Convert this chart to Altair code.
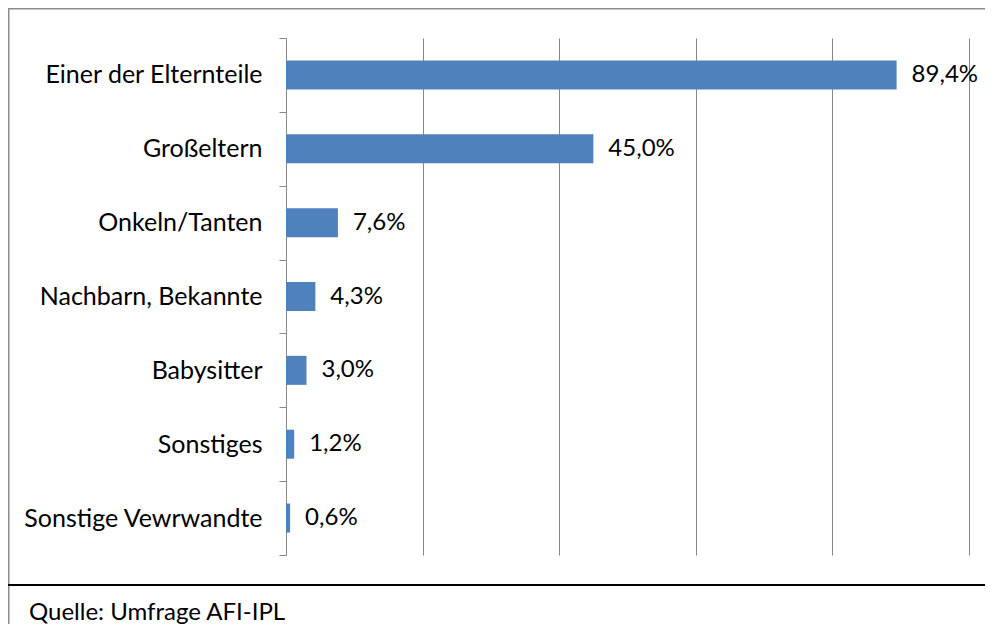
import altair as alt
import pandas as pd

categories = ["Einer der Elternteile", "Großeltern", "Onkeln/Tanten",
              "Nachbarn, Bekannte", "Babysitter", "Sonstiges", "Sonstige Vewrwandte"]
values = [89.4, 45.0, 7.6, 4.3, 3.0, 1.2, 0.6]
x_ticks = [0, 20, 40, 60, 80, 100]
source_note = "Quelle: Umfrage AFI-IPL"

df = pd.DataFrame({"cat": categories, "val": values})
df["label"] = [f"{v:.1f}".replace(".", ",") + "%" for v in values]

FONT = "Lato"
FS = 25
W, H = 683, 517
L, T, R, B = 278, 30, 16, 69
GRAY = "#878787"

y_enc = alt.Y(
    "cat:N", sort=categories, title=None,
    scale=alt.Scale(paddingInner=0, paddingOuter=0),
    axis=alt.Axis(tickBand="extent", labelFont=FONT, labelFontSize=FS,
                  labelColor="black", labelPadding=17, tickSize=7,
                  tickColor=GRAY, domainColor=GRAY, grid=False, labelLimit=400),
)
x_enc = alt.X(
    "val:Q", title=None, scale=alt.Scale(domain=[0, 100]),
    axis=alt.Axis(values=x_ticks, labels=False, ticks=False, domain=False,
                  grid=True, gridColor=GRAY, gridOpacity=1),
)

bars = alt.Chart(df).mark_bar(size=29, color="#4F81BD").encode(x=x_enc, y=y_enc)
texts = alt.Chart(df).mark_text(
    align="left", baseline="middle", dx=15, font=FONT, fontSize=24, color="black"
).encode(x="val:Q", y=alt.Y("cat:N", sort=categories), text="label:N")

one = pd.DataFrame({"k": [0]})
top_line = alt.Chart(one).mark_rule(color="#8c8c8c", strokeWidth=1.5).encode(
    x=alt.value(-L + 0.5), x2=alt.value(W + R), y=alt.value(-T + 0.75))
left_line = alt.Chart(one).mark_rule(color="#8c8c8c", strokeWidth=1.5).encode(
    x=alt.value(-L + 0.75), y=alt.value(-T), y2=alt.value(H + B))
sep_line = alt.Chart(one).mark_rule(color="black", strokeWidth=2).encode(
    x=alt.value(-L), x2=alt.value(W + R), y=alt.value(547))
footer = alt.Chart(one).mark_text(
    align="left", baseline="middle", font=FONT, fontSize=24, color="black"
).encode(x=alt.value(-257), y=alt.value(575), text=alt.value(source_note))

chart = alt.layer(bars, texts, top_line, left_line, sep_line, footer).properties(
    width=W, height=H,
    padding={"left": L, "top": T, "right": R, "bottom": B},
    autosize=alt.AutoSizeParams(type="none"),
    background="white",
).configure_view(stroke="transparent")

chart.save("out.html", embed_options={"renderer": "svg", "actions": False})
